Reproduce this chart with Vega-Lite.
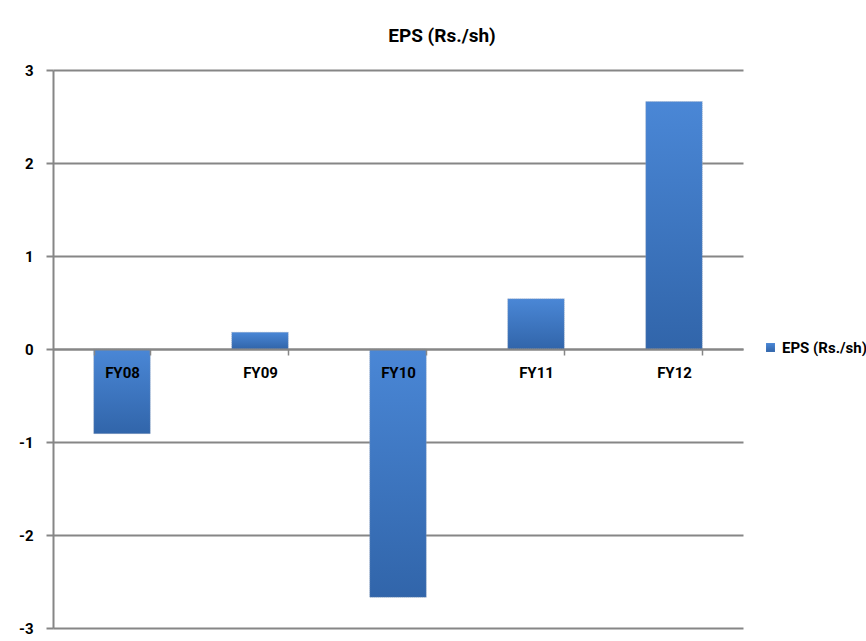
{
  "$schema": "https://vega.github.io/schema/vega-lite/v6.json",
  "width": 690,
  "height": 558,
  "autosize": {"type": "none"},
  "padding": {"left": 53, "top": 70, "right": 123, "bottom": 13},
  "background": "white",
  "config": {
    "view": {"stroke": null},
    "font": "Roboto, sans-serif"
  },
  "title": {
    "text": "EPS (Rs./sh)",
    "fontSize": 19,
    "fontWeight": "bold",
    "color": "#000000",
    "anchor": "middle",
    "dx": 44,
    "offset": 17
  },
  "data": {
    "values": [
      {"year": "FY08", "eps": -0.91, "series": "EPS (Rs./sh)"},
      {"year": "FY09", "eps": 0.18, "series": "EPS (Rs./sh)"},
      {"year": "FY10", "eps": -2.67, "series": "EPS (Rs./sh)"},
      {"year": "FY11", "eps": 0.54, "series": "EPS (Rs./sh)"},
      {"year": "FY12", "eps": 2.66, "series": "EPS (Rs./sh)"}
    ]
  },
  "mark": {
    "type": "bar",
    "fill": {"gradient": "linear", "x1": 0, "y1": 0, "x2": 0, "y2": 1,
             "stops": [{"offset": 0, "color": "#4a87d6"}, {"offset": 1, "color": "#3165aa"}]},
    "stroke": "#9aa8bd",
    "strokeWidth": 0.6,
    "strokeDash": [1, 1]
  },
  "encoding": {
    "x": {
      "field": "year",
      "type": "nominal",
      "sort": null,
      "scale": {"paddingInner": 0.59, "paddingOuter": 0.295},
      "axis": {
        "title": null,
        "offset": -279,
        "zindex": 1,
        "labelAngle": 0,
        "labelFontSize": 15,
        "labelFontWeight": "bold",
        "labelColor": "#000000",
        "labelPadding": 10,
        "domainColor": "#868686",
        "domainWidth": 2,
        "tickColor": "#868686",
        "tickWidth": 1.5,
        "tickSize": 6,
        "tickBand": "extent",
        "grid": false
      }
    },
    "y": {
      "field": "eps",
      "type": "quantitative",
      "scale": {"domain": [-3, 3], "nice": false},
      "axis": {
        "title": null,
        "values": [-3, -2, -1, 0, 1, 2, 3],
        "labelExpr": "'' + datum.value",
        "labelFontSize": 15,
        "labelFontWeight": "bold",
        "labelColor": "#000000",
        "labelPadding": 13,
        "domainColor": "#868686",
        "domainWidth": 2,
        "tickColor": "#868686",
        "tickWidth": 2,
        "tickSize": 7,
        "gridColor": "#868686",
        "gridWidth": 2
      }
    },
    "opacity": {
      "field": "series",
      "type": "ordinal",
      "scale": {"range": [1]},
      "legend": {
        "title": null,
        "orient": "none",
        "legendX": 710,
        "legendY": 270,
        "symbolType": "square",
        "symbolSize": 80,
        "symbolFillColor": "#3a72bf",
        "symbolStrokeWidth": 0,
        "symbolOpacity": 1,
        "labelFontSize": 15,
        "labelFontWeight": "bold",
        "labelColor": "#000000",
        "labelOffset": 4
      }
    }
  }
}
